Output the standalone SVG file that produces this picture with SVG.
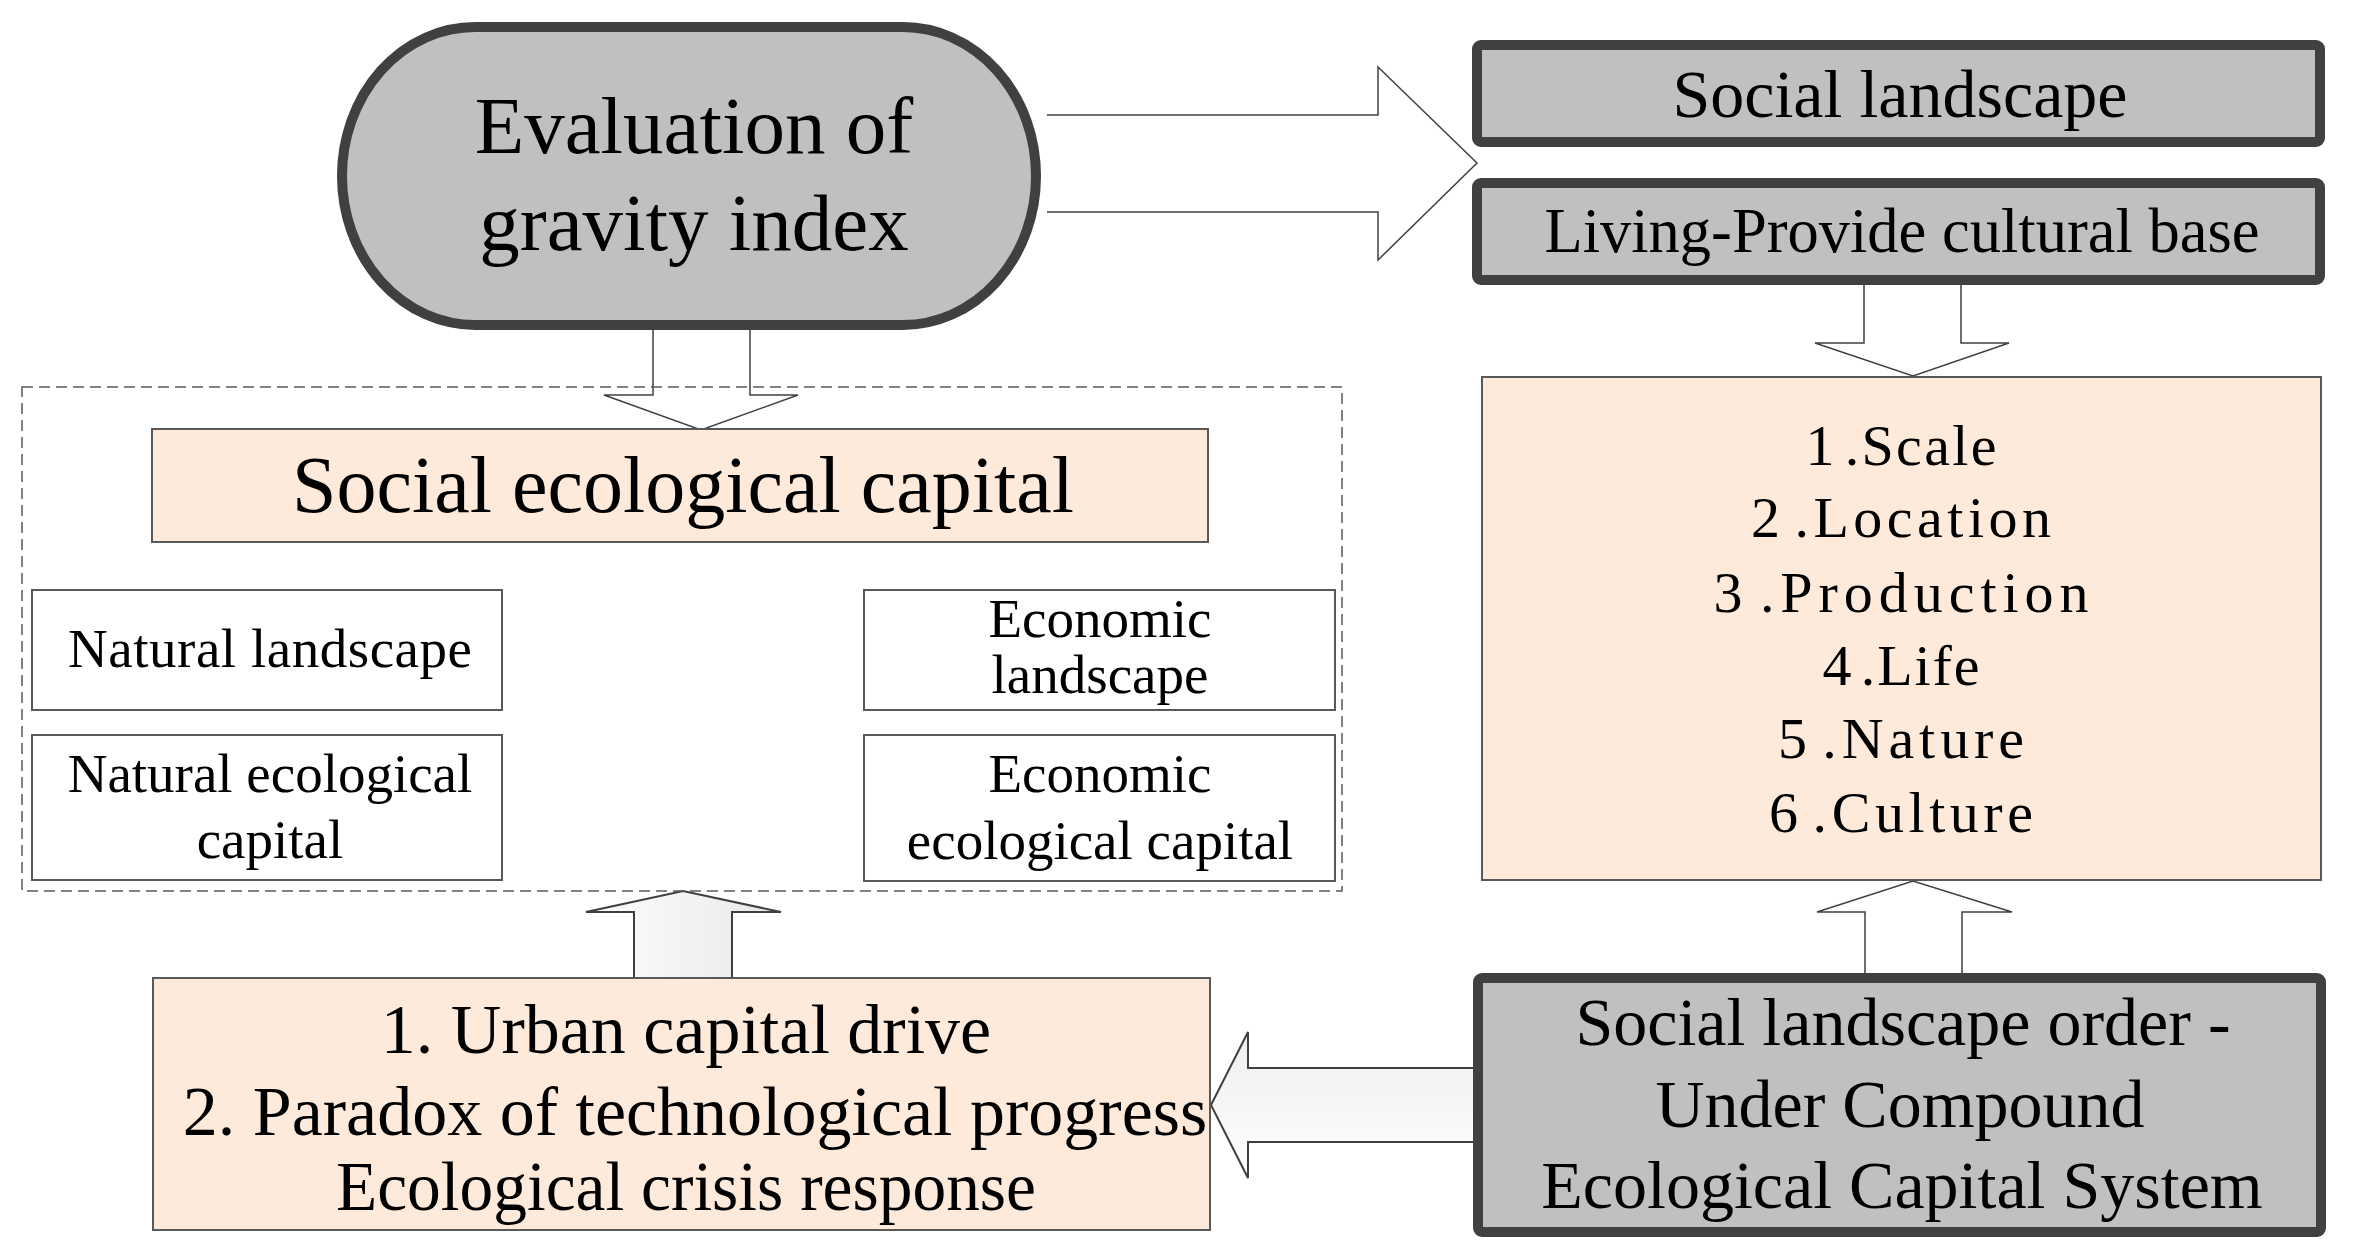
<svg xmlns="http://www.w3.org/2000/svg" width="2372" height="1260" viewBox="0 0 2372 1260">
  <defs>
    <linearGradient id="gUp" x1="0" y1="0" x2="1" y2="0">
      <stop offset="0" stop-color="#fdfdfd"/>
      <stop offset="1" stop-color="#e9e9e9"/>
    </linearGradient>
    <linearGradient id="gLeft" x1="0" y1="0" x2="0" y2="1">
      <stop offset="0" stop-color="#eeeeee"/>
      <stop offset="1" stop-color="#ffffff"/>
    </linearGradient>
  </defs>
  <style>
    text { font-family: "Liberation Serif", "Times New Roman", serif; fill: #000; text-anchor: middle; }
    .dark { fill: #c0c0c0; stroke: #404040; stroke-width: 10; }
    .peach { fill: #fdeadb; stroke: #595959; stroke-width: 2; }
    .white { fill: #ffffff; stroke: #595959; stroke-width: 2; }
    .hollow { fill: #ffffff; stroke: #404040; stroke-width: 1.5; }
    .grad { stroke: #404040; stroke-width: 2; }
    .dash { fill: none; stroke: #595959; stroke-width: 1.5; stroke-dasharray: 11 6; }
    .num { font-size: 58px; word-spacing: -9px; }
  </style>
  <rect width="2372" height="1260" fill="#ffffff"/>

  <g id="connectors">
    <path class="hollow" d="M1047,115 H1378 V67 L1477,163 L1378,260 V212 H1047"/>
    <path class="hollow" d="M653,330 V395 H604 L701,430 L798,395 H750 V330"/>
    <path class="hollow" d="M1864,285 V343 H1815 L1913,376 L2009,343 H1961 V285"/>
    <path class="hollow" d="M1865,973 V912 H1817 L1913,881 L2012,912 H1962 V973"/>
    <path class="grad" fill="url(#gUp)" d="M634,978 V912 H586 L683,891 L781,912 H732 V978"/>
    <path class="grad" fill="url(#gLeft)" d="M1477,1068 H1248 V1032 L1211,1105 L1248,1178 V1142 H1477"/>
  </g>

  <g id="evaluation">
    <rect class="dark" x="342" y="27" width="694" height="298" rx="133" ry="149"/>
    <text x="694" y="153" font-size="81">Evaluation of</text>
    <text x="694" y="250" font-size="81">gravity index</text>
  </g>

  <g id="social-landscape">
    <rect class="dark" x="1477" y="45" width="843" height="97" rx="4"/>
    <text x="1900" y="117" font-size="68">Social landscape</text>
  </g>

  <g id="living-base">
    <rect class="dark" x="1477" y="183" width="843" height="97" rx="4"/>
    <text x="1902" y="252" font-size="62.5">Living-Provide cultural base</text>
  </g>

  <g id="capital-group">
    <rect class="dash" x="22" y="387" width="1320" height="504"/>
  </g>

  <g id="social-ecological-capital">
    <rect class="peach" x="152" y="429" width="1056" height="113"/>
    <text x="683" y="512" font-size="80">Social ecological capital</text>
  </g>

  <g id="natural-landscape">
    <rect class="white" x="32" y="590" width="470" height="120"/>
    <text x="270" y="667" font-size="55" textLength="404" lengthAdjust="spacing">Natural landscape</text>
  </g>

  <g id="natural-ecological-capital">
    <rect class="white" x="32" y="735" width="470" height="145"/>
    <text x="270" y="792" font-size="55">Natural ecological</text>
    <text x="270" y="858" font-size="55">capital</text>
  </g>

  <g id="economic-landscape">
    <rect class="white" x="864" y="590" width="471" height="120"/>
    <text x="1100" y="637" font-size="55">Economic</text>
    <text x="1100" y="693" font-size="55">landscape</text>
  </g>

  <g id="economic-ecological-capital">
    <rect class="white" x="864" y="735" width="471" height="146"/>
    <text x="1100" y="792" font-size="55">Economic</text>
    <text x="1100" y="859" font-size="55">ecological capital</text>
  </g>

  <g id="factors">
    <rect class="peach" x="1482" y="377" width="839" height="503"/>
    <text class="num" x="1901" y="465" textLength="191" lengthAdjust="spacing">1 .Scale</text>
    <text class="num" x="1901" y="537" textLength="300" lengthAdjust="spacing">2 .Location</text>
    <text class="num" x="1901" y="612" textLength="375" lengthAdjust="spacing">3 .Production</text>
    <text class="num" x="1901" y="685" textLength="157" lengthAdjust="spacing">4 .Life</text>
    <text class="num" x="1901" y="758" textLength="246" lengthAdjust="spacing">5 .Nature</text>
    <text class="num" x="1901" y="832" textLength="264" lengthAdjust="spacing">6 .Culture</text>
  </g>

  <g id="drivers">
    <rect class="peach" x="153" y="978" width="1057" height="252"/>
    <text x="686" y="1053" font-size="70">1. Urban capital drive</text>
    <text x="695" y="1135" font-size="70">2. Paradox of technological progress</text>
    <text x="686" y="1210" font-size="70" textLength="700" lengthAdjust="spacingAndGlyphs">Ecological crisis response</text>
  </g>

  <g id="landscape-order">
    <rect class="dark" x="1478" y="978" width="843" height="254" rx="4"/>
    <text x="1903" y="1045" font-size="68">Social landscape order -</text>
    <text x="1900" y="1127" font-size="68">Under Compound</text>
    <text x="1902" y="1208" font-size="68">Ecological Capital System</text>
  </g>
</svg>
